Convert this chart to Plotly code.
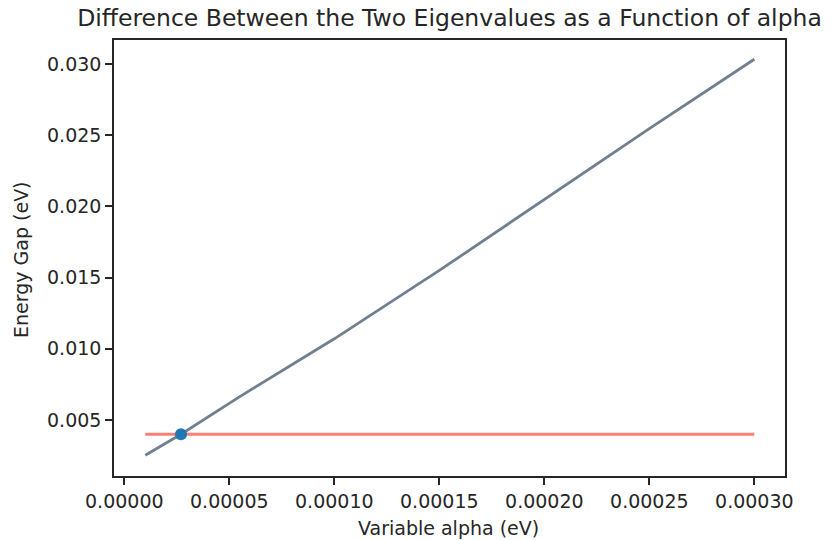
import plotly.graph_objects as go

# Data
alpha = [1.0e-5, 2.7e-5, 5.5e-5, 1.0e-4, 1.5e-4, 2.0e-4, 2.5e-4, 3.0e-4]
gap = [0.00252, 0.0040, 0.00664, 0.0107, 0.0155, 0.0205, 0.02546, 0.03033]

threshold_x = [1.0e-5, 3.0e-4]
threshold_y = [0.0040, 0.0040]

cross_x = [2.7e-5]
cross_y = [0.0040]

x_ticks = [0.0, 0.00005, 0.0001, 0.00015, 0.0002, 0.00025, 0.0003]
y_ticks = [0.005, 0.010, 0.015, 0.020, 0.025, 0.030]

font = "DejaVu Sans, sans-serif"
dark = "#262626"
L, R, T, B = 114, 785, 40, 476

fig = go.Figure()
fig.add_trace(go.Scatter(x=alpha, y=gap, mode="lines",
                         line=dict(color="#708090", width=2.8), hoverinfo="skip"))
fig.add_trace(go.Scatter(x=threshold_x, y=threshold_y, mode="lines",
                         line=dict(color="#fa8072", width=2.8), hoverinfo="skip"))
fig.add_trace(go.Scatter(x=cross_x, y=cross_y, mode="markers",
                         marker=dict(color="#1f77b4", size=12), hoverinfo="skip"))

axis_common = dict(showgrid=False, zeroline=False, showline=True, linecolor=dark,
                   linewidth=1.5, mirror=True, ticks="outside", ticklen=7,
                   tickcolor=dark, tickwidth=1.5,
                   tickfont=dict(family=font, size=19, color=dark))

fig.update_layout(
    width=832, height=540,
    margin=dict(l=L, r=832 - R, t=T, b=540 - B),
    paper_bgcolor="white", plot_bgcolor="white",
    showlegend=False,
    title=dict(text="Difference Between the Two Eigenvalues as a Function of alpha",
               xref="paper", x=0.5, xanchor="center", y=1 - 18 / 540, yanchor="middle",
               font=dict(family=font, size=23.5, color=dark)),
    xaxis=dict(range=[-4.9e-6, 3.146e-4], tickvals=x_ticks, tickformat=".5f",
               **axis_common),
    yaxis=dict(range=[0.001068, 0.03168], tickvals=y_ticks, tickformat=".3f",
               **axis_common),
    annotations=[
        dict(text="Variable alpha (eV)", xref="paper", yref="paper",
             x=(448 - L) / (R - L), y=0, xanchor="center", yanchor="middle",
             yshift=-(528 - B), showarrow=False,
             font=dict(family=font, size=19, color=dark)),
        dict(text="Energy Gap (eV)", xref="paper", yref="paper",
             x=0, y=(B - 260) / (B - T), xanchor="center", yanchor="middle",
             xshift=21 - L, textangle=-90, showarrow=False,
             font=dict(family=font, size=19, color=dark)),
    ],
)

fig.write_html("out.html")
